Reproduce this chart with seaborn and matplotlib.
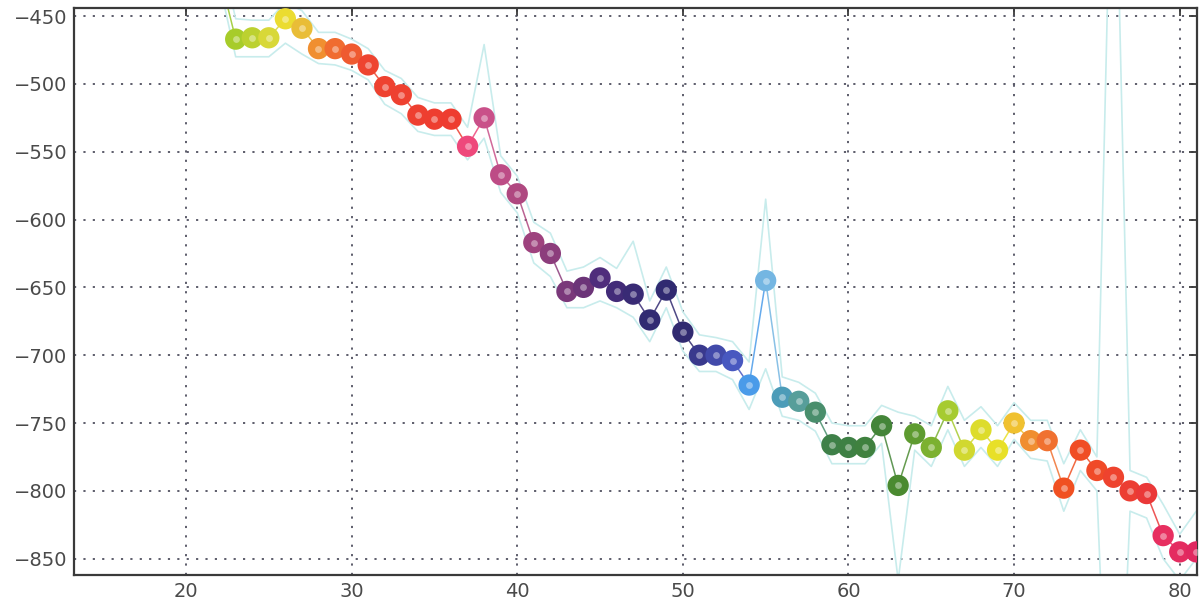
import numpy as np
import pandas as pd
import matplotlib
matplotlib.use("Agg")
import matplotlib.pyplot as plt
from matplotlib.colors import LinearSegmentedColormap
import seaborn as sns

# ---- data -------------------------------------------------------------
x_vals = list(range(22, 82))

y_vals = [
    -418, -467, -466, -466, -452, -459, -474, -474, -478, -486,   # 22-31
    -502, -508, -523, -526, -526, -546, -525, -567, -581, -617,   # 32-41
    -625, -653, -650, -643, -653, -655, -674, -652, -683, -700,   # 42-51
    -700, -704, -722, -645, -731, -734, -742, -766, -768, -768,   # 52-61
    -752, -796, -758, -768, -741, -770, -755, -770, -750, -763,   # 62-71
    -763, -798, -770, -785, -790, -800, -802, -833, -845, -845,   # 72-81
]

upper_band = [
    -400, -452, -453, -453, -440, -446, -462, -462, -467, -474,   # 22-31
    -490, -496, -510, -514, -514, -532, -471, -553, -568, -602,   # 32-41
    -610, -638, -635, -628, -636, -616, -660, -635, -668, -685,   # 42-51
    -687, -690, -705, -585, -716, -720, -728, -750, -752, -752,   # 52-61
    -737, -742, -745, -752, -723, -748, -738, -752, -735, -748,   # 62-71
    -748, -780, -755, -775, -250, -785, -790, -810, -832, -815,   # 72-81
]

lower_band = [
    -425, -480, -480, -480, -470, -478, -485, -486, -490, -497,   # 22-31
    -515, -522, -535, -538, -538, -556, -540, -580, -595, -632,   # 32-41
    -642, -665, -665, -660, -665, -672, -690, -665, -697, -712,   # 42-51
    -712, -718, -740, -710, -745, -748, -756, -780, -780, -780,   # 52-61
    -765, -866, -770, -782, -755, -782, -768, -782, -762, -776,   # 62-71
    -778, -815, -785, -800, -1100, -815, -820, -850, -866, -850,  # 72-81
]

x_ticks = [20, 30, 40, 50, 60, 70, 80]
y_ticks = [-450, -500, -550, -600, -650, -700, -750, -800, -850]

# ---- colour cycle along the series -------------------------------------
anchor_x = [22, 23, 25, 26, 27, 28, 29, 31, 36, 37, 38, 40, 42, 44, 45, 48,
            50, 51, 53, 54, 55, 56, 57, 58, 59, 61, 63, 64, 65, 66, 67, 69,
            70, 71, 72, 73, 75, 78, 79, 81]
anchor_c = ['#98c828', '#a8cc2a', '#d8d838', '#ecdc30', '#e8b838', '#f09030',
            '#f06a30', '#ee4430', '#ee3c30', '#f0487a', '#c8508a', '#b04880',
            '#8a3c7c', '#6c3478', '#4c2c7c', '#302a72', '#302a70', '#3a3a90',
            '#4858c0', '#4aa0ec', '#78b8e6', '#4c9cb8', '#589e98', '#4a9070',
            '#3e8048', '#3e8040', '#4a8a30', '#5a9830', '#7ab030', '#a8cc30',
            '#d0d830', '#e8e028', '#f0c830', '#f09030', '#f07030', '#f05020',
            '#f04a28', '#ea3838', '#e83060', '#e02860']
lo, hi = min(anchor_x), max(anchor_x)
cmap = LinearSegmentedColormap.from_list(
    "series_cycle",
    [((a - lo) / (hi - lo), c) for a, c in zip(anchor_x, anchor_c)])

df = pd.DataFrame({"x": x_vals, "y": y_vals,
                   "upper": upper_band, "lower": lower_band})

# ---- figure -----------------------------------------------------------
sns.set_theme(style="white")
plt.rcParams['font.family'] = ['DejaVu Sans']

fig = plt.figure(figsize=(12.04, 6.11), dpi=100)
ax = fig.add_axes([0.0615, 0.059, 0.9325, 0.928])

band_color = '#c8ecec'
sns.lineplot(data=df, x="x", y="upper", ax=ax, color=band_color,
             linewidth=1.2, zorder=1)
sns.lineplot(data=df, x="x", y="lower", ax=ax, color=band_color,
             linewidth=1.2, zorder=1)

# connecting segments, each in the colour of its starting point
norm_x = (df["x"] - lo) / (hi - lo)
for i in range(len(df) - 1):
    ax.plot(df["x"].iloc[i:i + 2], df["y"].iloc[i:i + 2],
            color=cmap(norm_x.iloc[i]), linewidth=1.1, alpha=0.85, zorder=2)

sns.scatterplot(data=df, x="x", y="y", hue="x", palette=cmap,
                hue_norm=(lo, hi), s=235, linewidth=0, legend=False,
                ax=ax, zorder=3)
# light centre of each marker
ax.scatter(df["x"], df["y"], s=24, color='white', alpha=0.4,
           linewidth=0, zorder=4)

ax.set_xlim(13.24, 81.03)
ax.set_ylim(-862, -444)
ax.set_xticks(x_ticks)
ax.set_yticks(y_ticks)
ax.set_xlabel("")
ax.set_ylabel("")

ax.grid(True, color='#505060', linestyle=(0, (1.2, 4)), linewidth=1.3)
ax.set_axisbelow(True)

for sp in ax.spines.values():
    sp.set_color('#3a3a3a')
    sp.set_linewidth(1.6)

ax.tick_params(axis='both', direction='in', length=6, width=1.3,
               color='#3a3a3a', labelsize=14, labelcolor='#4a4a4a',
               top=True, right=True, pad=5)

fig.savefig("out.png", dpi=100)
